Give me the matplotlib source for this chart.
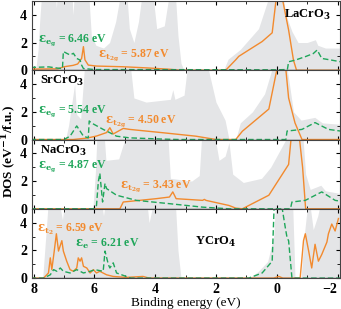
import matplotlib
matplotlib.use("Agg")
import matplotlib.pyplot as plt
from matplotlib.ticker import MultipleLocator

plt.rcParams['font.family'] = ['Liberation Serif', 'DejaVu Serif']
plt.rcParams['font.weight'] = 'bold'
plt.rcParams['mathtext.fontset'] = 'dejavuserif'
plt.rcParams['mathtext.default'] = 'bf'

ORANGE = '#f28a2e'
GREEN = '#1fa65a'
GRAY = '#e4e5e7'

names = ['LaCrO$_3$', 'SrCrO$_3$', 'NaCrO$_3$', 'YCrO$_4$']

# total DOS (gray), clipped at the top of each panel
tot_E = [
    [8.1, 7.93, 7.85, 7.8, 7.72, 7.3, 7.25, 7.2, 6.75, 6.7, 6.65, 6.2, 6.1, 5.95, 5.7, 5.5, 5.3, 5.1,
     4.95, 4.85, 4.7, 4.55, 4.4, 4.1, 3.95, 3.7, 3.5, 3.35, 3.25, 3.15, 3.05, 1.75, 1.6, 1.2, 0.6,
     0.3, 0.1, -0.1, -0.3, -0.5, -0.7, -1.0, -1.27, -1.35, -1.6, -2.1],
    [8.1, 6.95, 6.85, 6.65, 6.58, 6.45, 6.3, 4.85, 4.7, 4.3, 3.5, 3.42, 3.35, 3.05, 2.9, 2.35, 2.0,
     1.7, 1.57, 1.35, 1.2, 0.8, 0.4, 0.1, -0.2, -0.35, -0.55, -0.8, -1.25, -1.5, -2.1],
    [8.1, 6.05, 5.97, 5.9, 5.7, 5.62, 5.2, 5.0, 4.85, 3.6, 3.5, 2.8, 2.55, 2.45, 2.1, 1.9, 1.7,
     1.57, 1.45, 1.1, 0.5, 0.2, -0.3, -0.5, -0.8, -0.95, -1.1, -1.45, -1.6, -2.1],
    [8.1, 7.7, 7.6, 7.5, 7.2, 7.05, 6.95, 5.8, 5.7, 5.6, 4.3, 4.2, 4.0, 3.35, 3.25, 3.15, 0.9, 0.6,
     0.3, 0.1, 0.0, -0.5, -0.6, -0.8, -0.9, -1.05, -1.2, -1.35, -1.5, -2.1],
]
tot_D = [
    [0, 0, 1.5, 3.5, 6, 6, 4.5, 6, 6, 4.0, 6, 6, 2.5, 1.8, 1.6, 2.0, 3.5, 6,
     6, 3.0, 2.0, 3.5, 6, 6, 3.0, 3.2, 6, 6, 2.5, 0.5, 0, 0, 0.8, 1.5, 3.0,
     5, 7, 7, 4.0, 2.8, 2.0, 2.0, 2.2, 1.8, 1.6, 1.6],
    [0, 0, 1.0, 4.0, 1.8, 1.5, 6, 6, 3.0, 2.7, 2.9, 3.6, 2.9, 3.2, 6, 6, 2.7,
     1.4, 0, 0, 1.2, 2.0, 3.3, 5.5, 7, 5, 2.0, 1.4, 1.6, 1.2, 1.1],
    [0, 0, 2.5, 6, 6, 3.5, 3.6, 5, 6, 6, 2.2, 2.0, 2.4, 6, 6, 3.5, 3.8,
     4.8, 2.5, 1.9, 2.2, 3.0, 5, 7, 7, 2.5, 1.4, 1.7, 1.3, 1.1],
    [0, 0, 3, 6, 6, 4.2, 6, 6, 4.5, 6, 6, 4.0, 6, 6, 2.0, 0, 0, 0.5,
     1.2, 3, 7, 7, 0, 0, 3.0, 6, 3.5, 4.5, 6, 6],
]

# Cr t2g / t2 projected DOS (orange)
t_E = [
    [8.1, 7.2, 7.0, 6.7, 6.55, 6.42, 6.36, 6.31, 6.2, 5.93, 5.05, 4.29, 3.53, 3.2, 1.68, 1.57,
     1.35, 1.25, 0.92, 0.48, 0.15, 0.0, -0.1, -0.2, -0.39, -0.55, -0.65, -2.1],
    [8.1, 6.7, 6.25, 5.93, 5.6, 5.49, 5.38, 5.05, 4.84, 3.75, 2.66, 2.0, 1.35, 1.13, 0.26, 0.0,
     -0.17, -0.39, -0.6, -0.83, -2.1],
    [8.1, 5.16, 5.05, 3.97, 3.53, 3.42, 3.31, 2.44, 2.38, 2.33, 1.57, 1.35, 1.13, 0.92, 0.26,
     -0.39, -0.6, -0.85, -0.95, -2.1],
    [8.1, 7.67, 7.51, 7.45, 7.4, 7.32, 7.25, 7.18, 7.07, 7.02, 6.91, 6.8, 6.69, 6.58, 6.53, 6.47,
     6.42, 6.36, 6.25, 6.14, 6.03, 5.93, 5.82, 5.6, 5.38, 4.95, 4.4, 4.2, 3.9, 0.1, -0.07, -0.2,
     -0.77, -0.83, -0.88, -0.94, -1.05, -1.15, -1.26, -1.37, -1.48, -1.65, -1.7, -1.81, -1.92, -2.03],
]
t_D = [
    [0.08, 0.1, 0.25, 0.35, 0.45, 0.85, 1.7, 0.75, 0.37, 0.3, 0.25, 0.17, 0.07, 0.0, 0.0, 0.25,
     0.75, 1.0, 1.46, 2.07, 2.7, 5.5, 8, 5.0, 2.9, 0.73, 0.0, 0.0],
    [0.0, 0.0, 0.1, 0.25, 0.5, 0.85, 0.4, 0.8, 0.73, 0.49, 0.24, 0.0, 0.0, 0.6, 2.2, 5.0,
     8, 3.0, 1.2, 0.0, 0.0],
    [0.0, 0.0, 0.49, 0.73, 0.85, 1.22, 0.73, 0.61, 0.68, 0.61, 0.24, 0.05, 0.0, 0.24, 0.98,
     3.2, 8, 3.0, 0.0, 0.0],
    [0.0, 0.0, 0.37, 1.46, 0.61, 1.95, 3.2, 1.95, 2.7, 1.95, 1.22, 0.61, 0.49, 0.73, 1.46, 1.22,
     1.46, 0.85, 0.73, 0.37, 0.61, 0.37, 0.49, 0.24, 0.12, 0.05, 0.12, 0.0, 0.0, 0.0, 0.12, 0.0,
     0.0, 1.46, 2.7, 3.2, 1.95, 0.73, 2.44, 1.22, 1.7, 2.6, 3.2, 3.9, 3.4, 4.3],
]

# Cr eg / e projected DOS (green, dashed)
e_E = [
    [8.1, 7.5, 7.2, 7.05, 7.02, 6.91, 6.8, 6.69, 6.58, 6.47, 6.42, 6.36, 6.0, 0.0, -0.35, -0.39,
     -0.61, -0.94, -1.2, -1.33, -1.48, -1.8, -2.1],
    [8.1, 7.0, 6.8, 6.58, 6.36, 6.2, 6.17, 6.1, 5.71, 5.49, 5.27, 4.84, 3.75, 3.2, -0.3, -0.34,
     -0.83, -1.26, -1.7, -2.1],
    [8.1, 6.03, 5.93, 5.87, 5.82, 5.73, 5.65, 5.6, 5.27, 4.62, 3.53, 2.44, 1.57, -0.45, -0.5,
     -0.94, -1.48, -1.92, -2.1],
    [8.1, 7.67, 7.45, 7.34, 7.23, 7.12, 7.02, 6.8, 6.58, 6.36, 6.14, 5.98, 5.71, 5.65, 5.54, 5.49,
     5.38, 5.27, 4.8, 0.92, 0.48, 0.15, 0.04, -0.28, -0.34, -0.39, -0.5, -2.1],
]
e_D = [
    [0.2, 0.24, 0.15, 0.12, 1.35, 1.22, 1.1, 1.22, 0.85, 0.73, 0.37, 0.12, 0.05, 0.03, 0.05, 0.61,
     0.73, 0.98, 1.2, 1.46, 0.85, 0.73, 0.61],
    [0.0, 0.0, 0.24, 0.98, 0.24, 0.12, 1.34, 1.2, 0.73, 0.49, 0.24, 0.12, 0.03, 0.0, 0.0, 0.61,
     0.73, 1.22, 0.73, 0.61],
    [0.0, 0.0, 0.24, 1.95, 2.56, 0.49, 1.83, 1.46, 0.98, 0.61, 0.37, 0.12, 0.0, 0.0, 0.49, 0.61,
     1.22, 0.61, 0.55],
    [0.0, 0.0, 0.24, 0.61, 0.49, 0.73, 0.49, 0.37, 0.61, 0.37, 0.49, 0.61, 0.49, 1.95, 0.98, 0.73,
     1.1, 0.37, 0.0, 0.0, 0.37, 1.22, 8, 3.66, 2.9, 2.7, 0.0, 0.0],
]

# band-centre labels
t_lab = ['$\\epsilon_{t_{2g}}$ = 5.87 eV', '$\\epsilon_{t_{2g}}$ = 4.50 eV',
         '$\\epsilon_{t_{2g}}$ = 3.43 eV', '$\\epsilon_{t_2}$ = 6.59 eV']
e_lab = ['$\\epsilon_{e_g}$ = 6.46 eV', '$\\epsilon_{e_g}$ = 5.54 eV',
         '$\\epsilon_{e_g}$ = 4.87 eV', '$\\epsilon_e$ = 6.21 eV']
t_pos = [(5.88, 1.0), (5.65, 1.3), (5.16, 1.55), (7.88, 3.5)]
e_pos = [(7.84, 2.1), (7.84, 2.0), (7.84, 3.0), (6.63, 2.5)]
name_pos = [(-1.75, 4.0), (7.8, 4.2), (7.8, 4.2), (2.0, 2.6)]
name_ha = ['right', 'left', 'left', 'center']

fig, axes = plt.subplots(4, 1, figsize=(3.41, 3.09), dpi=100, sharex=True)
fig.subplots_adjust(left=0.094, right=0.997, top=0.997, bottom=0.1, hspace=0)

for i, ax in enumerate(axes):
    ax.fill_between(tot_E[i], 0, tot_D[i], color=GRAY, lw=0)
    ax.plot(t_E[i], t_D[i], color=ORANGE, lw=1.0)
    ax.plot(e_E[i], e_D[i], color=GREEN, lw=1.0, ls=(0, (4, 2)))
    ax.axhline(0, color='#555555', lw=1.0)
    ax.set_ylim(0, 5)
    ax.set_xlim(8.05, -2.08)
    ax.yaxis.set_major_locator(MultipleLocator(2))
    ax.yaxis.set_minor_locator(MultipleLocator(1))
    ax.xaxis.set_major_locator(MultipleLocator(2))
    ax.xaxis.set_minor_locator(MultipleLocator(1))
    ax.tick_params(which='both', direction='in', top=True, right=True, labelsize=10)
    ax.tick_params(which='major', length=3)
    ax.tick_params(which='minor', length=2)
    for s in ax.spines.values():
        s.set_color('#444444')
    ax.text(name_pos[i][0], name_pos[i][1], names[i], fontsize=9, ha=name_ha[i], va='center')
    ax.text(e_pos[i][0], e_pos[i][1], e_lab[i], color=GREEN, fontsize=8.5, va='center')
    ax.text(t_pos[i][0], t_pos[i][1], t_lab[i], color=ORANGE, fontsize=8.5, va='center')
    if i < 3:
        ax.tick_params(labelbottom=False)

axes[-1].set_xlabel('Binding energy (eV)', fontsize=9.5, labelpad=1)
fig.canvas.draw()
for lab in axes[-1].get_xticklabels():
    if lab.get_text().replace('\u2212', '-') == '-2':
        lab.set_ha('right')
fig.text(0.025, 0.51, 'DOS (eV$^{-1}$/f.u.)', rotation=90, fontsize=9.5, ha='center', va='center')

fig.savefig('out.png', dpi=100)
